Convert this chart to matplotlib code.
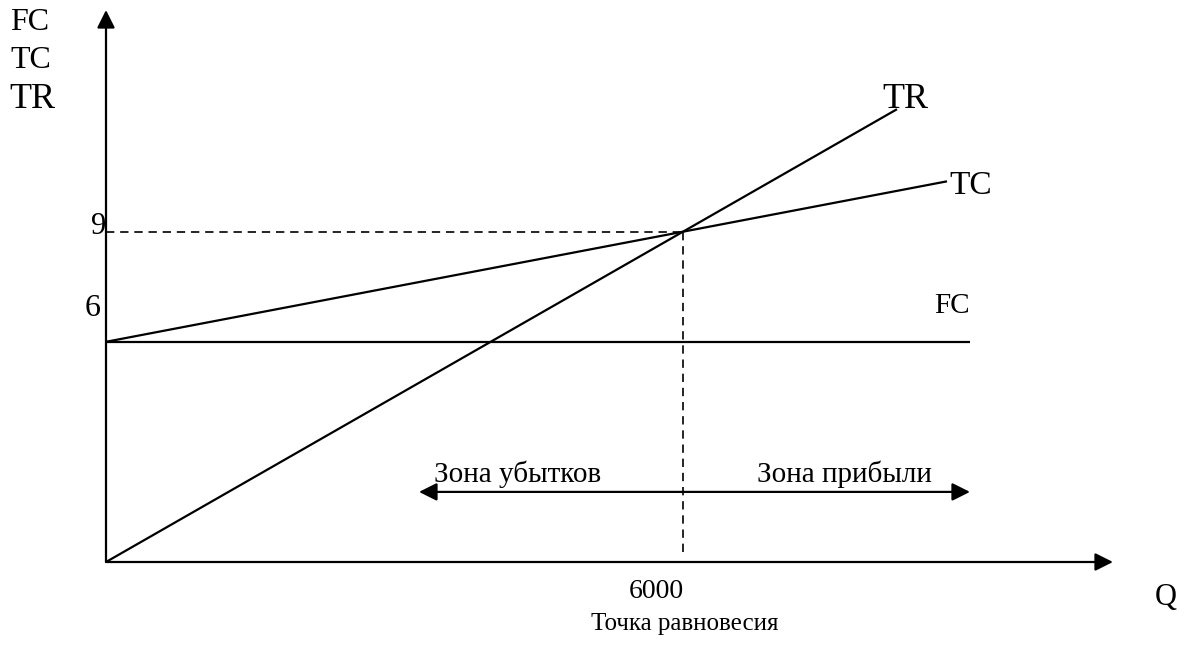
import matplotlib
matplotlib.use('Agg')

import numpy as np
import matplotlib.pyplot as plt

# ---------------- данные ----------------
fc_value = 6          # постоянные издержки
be_q = 6000           # точка равновесия (Q)
be_value = 9          # TC = TR в точке равновесия
tr_q_end = 8225       # где кончается линия TR
tc_q_end = 8745       # где кончается линия TC
fc_q_end = 8984       # где кончается линия FC
zone_q = [3255, 8984] # стрелка зон убытков / прибыли
zone_level = 1.91
y_axis_top = 15.04
x_axis_end = 10471

tr_slope = be_value / be_q
tc_slope = (be_value - fc_value) / be_q

# ---------------- пиксели -> данные ----------------
W, H = 1187, 646
ox, oy = 106, 562          # начало координат в пикселях
kx = (683 - ox) / be_q     # пикселей на единицу Q
ky = 36.7                  # пикселей на единицу стоимости


def px(x, y):
    return (x - ox) / kx, (oy - y) / ky


plt.rcParams['font.family'] = ['Liberation Serif', 'DejaVu Serif']

fig = plt.figure(figsize=(W / 100, H / 100), dpi=100)
ax = fig.add_axes([0, 0, 1, 1])
ax.set_xlim(px(0, 0)[0], px(W, 0)[0])
ax.set_ylim(px(0, H)[1], px(0, 0)[1])
ax.axis('off')

lw = 1.6
head = dict(arrowstyle='-|>,head_length=0.6,head_width=0.3', color='black',
            lw=lw, shrinkA=0, shrinkB=0, mutation_scale=18)

# оси
ax.annotate('', xy=(0, y_axis_top), xytext=(0, 0), arrowprops=head)
ax.annotate('', xy=(x_axis_end, 0), xytext=(0, 0), arrowprops=head)

# линии
q_tr = np.array([0, tr_q_end])
ax.plot(q_tr, tr_slope * q_tr, color='black', lw=lw, solid_capstyle='butt')
q_tc = np.array([0, tc_q_end])
ax.plot(q_tc, fc_value + tc_slope * q_tc, color='black', lw=lw, solid_capstyle='butt')
ax.plot([0, fc_q_end], [fc_value, fc_value], color='black', lw=lw, solid_capstyle='butt')

# пунктир к точке равновесия
ax.plot([0, be_q], [be_value, be_value], color='black', lw=1.2, dashes=(5, 3.5))
ax.plot([be_q, be_q], [be_value, 0.15], color='black', lw=1.2, dashes=(5, 3.5))

# зоны
dbl = dict(head)
dbl['arrowstyle'] = '<|-|>,head_length=0.6,head_width=0.3'
ax.annotate('', xy=(zone_q[1], zone_level), xytext=(zone_q[0], zone_level), arrowprops=dbl)

# подписи
def label(text, x, y, size, ha='left', va='center'):
    ax.text(*px(x, y), text, fontsize=size, ha=ha, va=va, color='black')


label('FC', 10, 23, 23)
label('TC', 10, 60, 23)
label('TR', 9, 100, 26)
label('9', 106, 227, 22, ha='right')
label('6', 101, 308, 23, ha='right')
label('TR', 882, 99, 26)
label('TC', 949, 186, 24)
label('FC', 934, 306, 21)
label('Зона убытков', 434, 482, 21, va='baseline')
label('Зона прибыли', 932, 482, 21, ha='right', va='baseline')
label('6000', 656, 592, 20, ha='center')
label('Q', 1166, 597, 22, ha='center')
label('Точка равновесия', 685, 624, 18, ha='center')

fig.savefig('out.png', dpi=100)
